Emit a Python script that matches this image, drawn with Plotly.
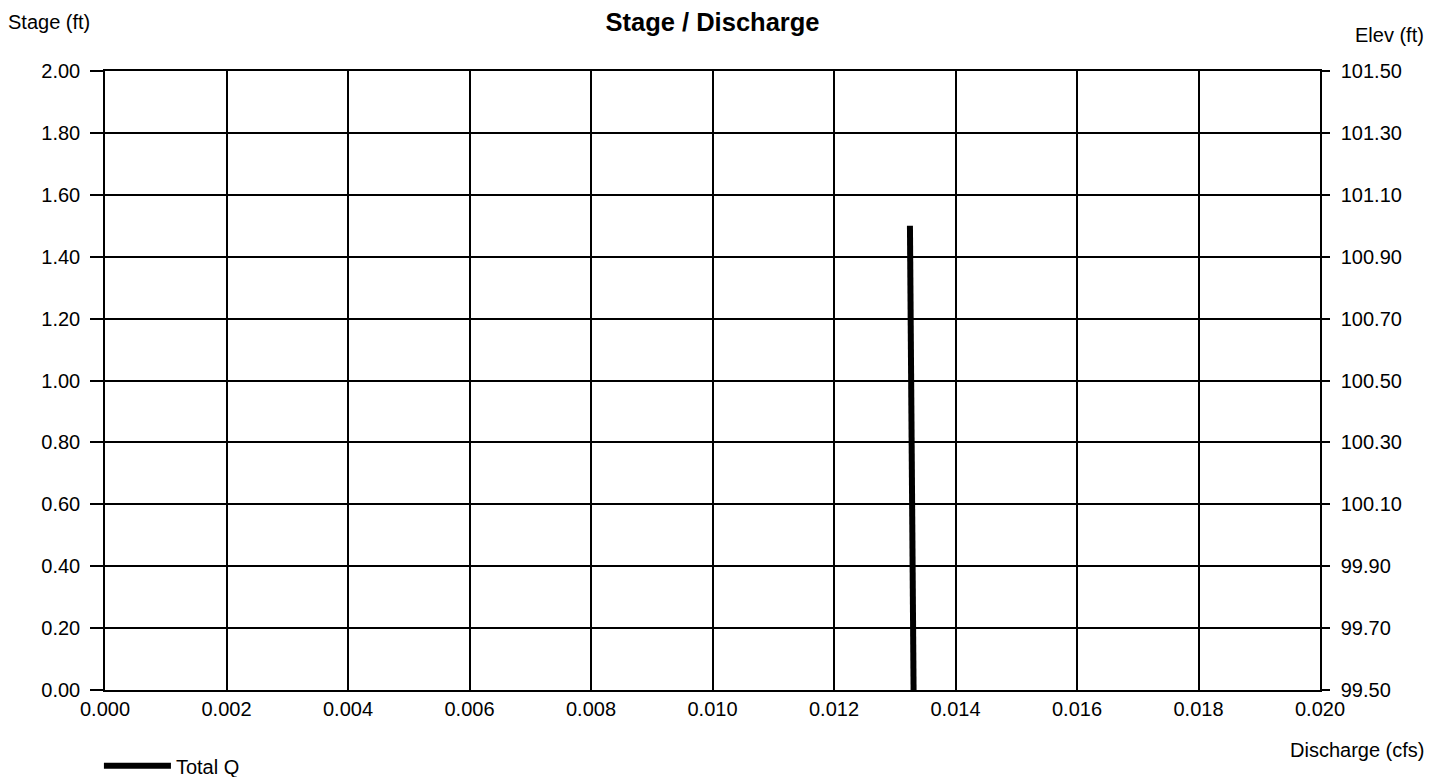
import plotly.graph_objects as go

# Data
stage_ft = [1.50, 0.00]            # Stage (ft)
total_q_cfs = [0.01325, 0.01331]   # Discharge (cfs)
base_elev_ft = 99.50               # Elevation at stage 0
elev_ft = [s + base_elev_ft for s in stage_ft]

x_ticks = [0.000, 0.002, 0.004, 0.006, 0.008, 0.010, 0.012, 0.014, 0.016, 0.018, 0.020]
y_ticks = [0.00, 0.20, 0.40, 0.60, 0.80, 1.00, 1.20, 1.40, 1.60, 1.80, 2.00]
y2_ticks = [99.50, 99.70, 99.90, 100.10, 100.30, 100.50, 100.70, 100.90, 101.10, 101.30, 101.50]

FONT = "Liberation Sans, Arial, sans-serif"
FS = 20

fig = go.Figure()
fig.add_trace(go.Scatter(
    x=total_q_cfs, y=stage_ft, mode="lines", name="Total Q",
    line=dict(color="black", width=6), yaxis="y",
))
fig.add_trace(go.Scatter(
    x=total_q_cfs, y=elev_ft, mode="lines", showlegend=False,
    line=dict(color="rgba(0,0,0,0)", width=0), yaxis="y2", hoverinfo="skip",
))

fig.update_layout(
    width=1430, height=769,
    margin=dict(l=97, r=118, t=63, b=87, autoexpand=False),
    paper_bgcolor="white", plot_bgcolor="white",
    font=dict(family=FONT, size=FS, color="black"),
    title=dict(text="<b>Stage / Discharge</b>", x=0.5, xanchor="center",
               xref="paper", y=0.982, yanchor="middle",
               font=dict(size=25.5, family=FONT, color="black")),
    xaxis=dict(range=[0, 0.020], tickvals=x_ticks, tickformat=".3f",
               showgrid=True, gridcolor="black", gridwidth=2,
               showline=True, linecolor="black", linewidth=1.5, mirror=True,
               ticks="", zeroline=False, tickfont=dict(size=FS), automargin=False),
    yaxis=dict(range=[0, 2.0], tickvals=y_ticks, tickformat=".2f",
               showgrid=True, gridcolor="black", gridwidth=1.5,
               showline=True, linecolor="black", linewidth=1.5,
               ticks="outside", ticklen=13, tickwidth=1.5, tickcolor="black",
               ticklabelstandoff=6,
               zeroline=False, tickfont=dict(size=FS), automargin=False),
    yaxis2=dict(range=[99.5, 101.5], tickvals=y2_ticks, tickformat=".2f",
                overlaying="y", side="right", showgrid=False,
                showline=True, linecolor="black", linewidth=1.5,
                ticks="outside", ticklen=8, tickwidth=1.5, tickcolor="black",
                ticklabelstandoff=7,
                zeroline=False, tickfont=dict(size=FS), automargin=False),
    legend=dict(x=-0.005, xanchor="left", y=-0.091, yanchor="top",
                orientation="h", font=dict(size=FS), itemwidth=67,
                bgcolor="rgba(0,0,0,0)"),
    showlegend=True,
    annotations=[
        dict(text="Stage (ft)", xref="paper", yref="paper", x=-0.0815, y=1.079,
             xanchor="left", yanchor="middle", showarrow=False, font=dict(size=FS)),
        dict(text="Elev (ft)", xref="paper", yref="paper", x=1.0872, y=1.058,
             xanchor="right", yanchor="middle", showarrow=False, font=dict(size=FS)),
        dict(text="Discharge (cfs)", xref="paper", yref="paper", x=1.0872, y=-0.097,
             xanchor="right", yanchor="middle", showarrow=False, font=dict(size=FS)),
    ],
)

fig.write_html("out.html")
